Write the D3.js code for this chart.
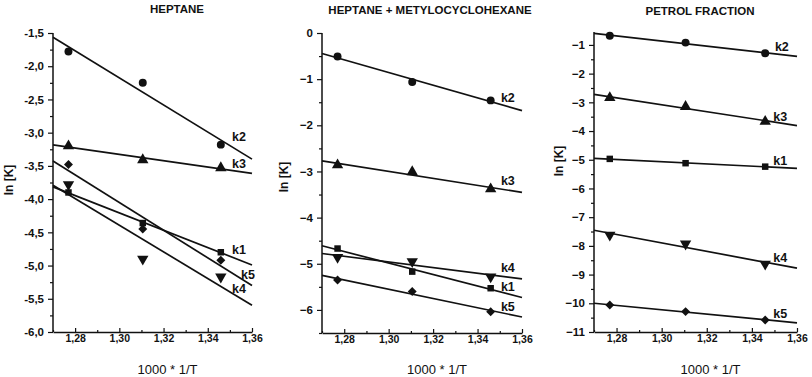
<!DOCTYPE html>
<html>
<head>
<meta charset="utf-8">
<script src="https://cdn.jsdelivr.net/npm/d3@7"></script>
<style>
  body { margin: 0; background: #fff; }
  svg text { font-family: "Liberation Sans", Arial, sans-serif; fill: #111; }
</style>
</head>
<body>
<svg id="chart" width="812" height="377"></svg>
<script>
// values

// 1000 * 1/T for the three temperatures
const invT = [1.277, 1.3106, 1.3459];
const xTicks = [1.28, 1.30, 1.32, 1.34, 1.36];
const xMinor = [1.27, 1.29, 1.31, 1.33, 1.35];
const seriesNames = ["k1", "k2", "k3", "k4", "k5"];

// heptane
const heptK1 = [-3.90, -4.36, -4.80];
const heptK2 = [-1.78, -2.25, -3.18];
const heptK3 = [-3.20, -3.41, -3.53];
const heptK4 = [-3.78, -4.90, -5.17];
const heptK5 = [-3.48, -4.45, -4.92];
const heptLabelX = [1.351, 1.351, 1.351, 1.351, 1.355];
const heptLabelY = [-4.76, -3.06, -3.47, -5.35, -5.13];
const heptYTicks = [-6, -5.5, -5, -4.5, -4, -3.5, -3, -2.5, -2, -1.5];

// heptane + metylocyclohexane
const mixK1 = [-4.67, -5.17, -5.53];
const mixK2 = [-0.51, -1.06, -1.46];
const mixK3 = [-2.86, -3.01, -3.38];
const mixK4 = [-4.86, -4.95, -5.28];
const mixK5 = [-5.35, -5.60, -6.04];
const mixLabelX = [1.3505, 1.3505, 1.3505, 1.3505, 1.3505];
const mixLabelY = [-5.49, -1.39, -3.20, -5.08, -5.93];
const mixYTicks = [-6, -5, -4, -3, -2, -1, 0];

// petrol fraction
const petK1 = [-4.97, -5.12, -5.24];
const petK2 = [-0.68, -0.92, -1.29];
const petK3 = [-2.84, -3.15, -3.67];
const petK4 = [-7.62, -7.93, -8.63];
const petK5 = [-10.06, -10.29, -10.58];
const petLabelX = [1.3495, 1.3502, 1.3495, 1.3495, 1.3495];
const petLabelY = [-5.04, -1.07, -3.50, -8.42, -10.37];
const petYTicks = [-11, -10, -9, -8, -7, -6, -5, -4, -3, -2, -1];

const svg = d3.select("#chart");

const markerFor = {
    k1: { type: d3.symbolSquare, size: 42, rot: 0 },
    k2: { type: d3.symbolCircle, size: 50, rot: 0 },
    k3: { type: d3.symbolTriangle, size: 56, rot: 0 },
    k4: { type: d3.symbolTriangle, size: 56, rot: 180 },
    k5: { type: d3.symbolSquare, size: 40, rot: 45 }
};

function fitLine(xs, ys) {
    let mx = d3.mean(xs), my = d3.mean(ys);
    let sxy = d3.sum(xs, (x, i) => (x - mx) * (ys[i] - my));
    let sxx = d3.sum(xs, x => (x - mx) * (x - mx));
    let b = sxy / sxx;
    return x => my + b * (x - mx);
}

function drawPanel(p) {
    let x = d3.scaleLinear().domain([1.27, 1.36]).range(p.xRange);
    let y = d3.scaleLinear().domain(p.yDomain).range(p.yRange);
    let g = svg.append("g");

    // y axis
    let yAxis = d3.axisLeft(y)
                  .tickValues(p.yTicks)
                  .tickSize(5)
                  .tickSizeOuter(0)
                  .tickPadding(4)
                  .tickFormat(p.yFmt);
    let ya = g.append("g")
              .attr("transform", `translate(${p.xRange[0]},0)`)
              .call(yAxis);
    ya.select(".domain").attr("d", `M0,${p.yRange[0]}V${p.yRange[1]}`);

    let yMinor = d3.axisLeft(y).tickValues(p.yMinor).tickSize(3).tickFormat("");
    let ym = g.append("g")
              .attr("transform", `translate(${p.xRange[0]},0)`)
              .call(yMinor);
    ym.select(".domain").remove();

    // x axis
    let xAxis = d3.axisBottom(x)
                  .tickValues(xTicks)
                  .tickSize(-4)
                  .tickSizeOuter(0)
                  .tickPadding(3)
                  .tickFormat(d => d.toFixed(2).replace(".", ","));
    let xa = g.append("g")
              .attr("transform", `translate(0,${p.yRange[0]})`)
              .call(xAxis);
    let xm = g.append("g")
              .attr("transform", `translate(0,${p.yRange[0]})`)
              .call(d3.axisBottom(x).tickValues(xMinor).tickSize(-2).tickFormat(""));
    xm.select(".domain").remove();

    g.selectAll(".domain").attr("stroke", "#111").attr("stroke-width", 1.5);
    g.selectAll(".tick line").attr("stroke", "#111").attr("stroke-width", 1.2);
    ya.selectAll(".tick text").attr("font-size", 11.5).attr("font-weight", "bold");
    xa.selectAll(".tick text").attr("font-size", 10.5).attr("font-weight", "bold");

    // fitted lines and points
    seriesNames.forEach((name, i) => {
        let vals = p.series[i];
        let f = fitLine(invT, vals);
        g.append("line")
         .attr("x1", x(1.27)).attr("y1", y(f(1.27)))
         .attr("x2", x(1.36)).attr("y2", y(f(1.36)))
         .attr("stroke", "#111")
         .attr("stroke-width", 1.7);

        let m = markerFor[name];
        g.selectAll(null)
         .data(vals)
         .join("path")
         .attr("d", d3.symbol().type(m.type).size(m.size))
         .attr("transform", (d, j) => `translate(${x(invT[j])},${y(d)}) rotate(${m.rot})`)
         .attr("fill", "#111");

        g.append("text")
         .attr("x", x(p.labelX[i]))
         .attr("y", y(p.labelY[i]))
         .attr("dy", "0.35em")
         .attr("font-size", 12.5)
         .attr("font-weight", "bold")
         .text(name);
    });

    // titles
    g.append("text")
     .attr("x", p.titleX).attr("y", p.titleY)
     .attr("text-anchor", "middle")
     .attr("font-size", 11.5)
     .attr("font-weight", "bold")
     .text(p.title);

    g.append("text")
     .attr("x", (p.xRange[0] + p.xRange[1]) / 2 + 15)
     .attr("y", 374)
     .attr("text-anchor", "middle")
     .attr("font-size", 13)
     .text("1000 * 1/T");

    g.append("text")
     .attr("transform", `translate(${p.yLabelX},${p.yLabelY}) rotate(-90)`)
     .attr("text-anchor", "middle")
     .attr("font-size", 12)
     .attr("font-weight", "bold")
     .text("ln [K]");
}

drawPanel({
    title: "HEPTANE", titleX: 177, titleY: 13,
    xRange: [53, 252], yRange: [332, 33], yDomain: [-6, -1.5],
    yTicks: heptYTicks, yMinor: d3.range(-5.75, -1.5, 0.5),
    yFmt: d => d.toFixed(1).replace(".", ","),
    series: [heptK1, heptK2, heptK3, heptK4, heptK5],
    labelX: heptLabelX, labelY: heptLabelY,
    yLabelX: 13, yLabelY: 180
});

drawPanel({
    title: "HEPTANE + METYLOCYCLOHEXANE", titleX: 430, titleY: 14,
    xRange: [322, 522], yRange: [333, 33], yDomain: [-6.5, 0],
    yTicks: mixYTicks, yMinor: d3.range(-6.5, 0, 1),
    yFmt: d => d3.format("d")(d),
    series: [mixK1, mixK2, mixK3, mixK4, mixK5],
    labelX: mixLabelX, labelY: mixLabelY,
    yLabelX: 288, yLabelY: 177
});

drawPanel({
    title: "PETROL FRACTION", titleX: 700, titleY: 15,
    xRange: [594, 797], yRange: [332, 32], yDomain: [-11, -0.55],
    yTicks: petYTicks, yMinor: d3.range(-10.5, -0.5, 1),
    yFmt: d => d3.format("d")(d),
    series: [petK1, petK2, petK3, petK4, petK5],
    labelX: petLabelX, labelY: petLabelY,
    yLabelX: 563, yLabelY: 161
});
</script>
</body>
</html>
